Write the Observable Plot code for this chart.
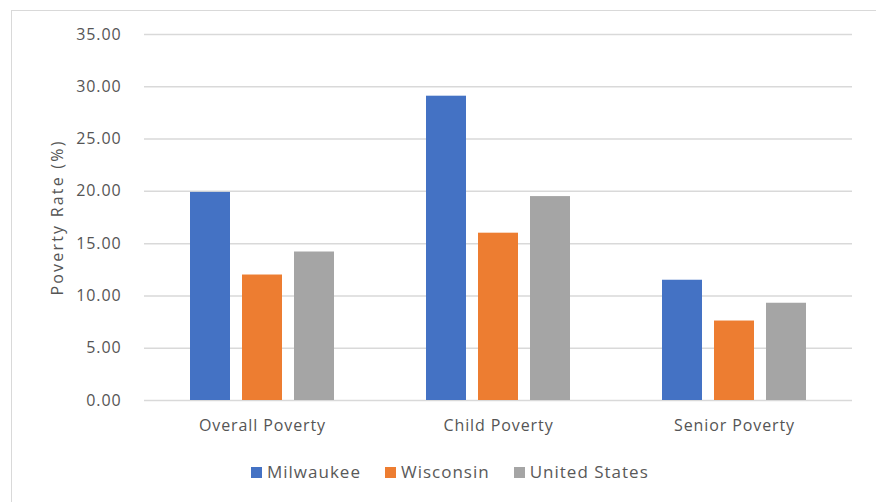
<!DOCTYPE html>
<html>
<head>
<meta charset="utf-8">
<script src="https://cdn.jsdelivr.net/npm/d3@7"></script>
<script src="https://cdn.jsdelivr.net/npm/@observablehq/plot@0.6"></script>
<style>
  html, body { margin: 0; padding: 0; width: 876px; height: 502px; overflow: hidden; background: #fff; }
  #frame { position: absolute; left: 11px; top: 10px; width: 900px; height: 600px; border: 1px solid #d9d9d9; box-sizing: border-box; }
  #chart { position: absolute; left: 0; top: 0; }
  #legend { position: absolute; left: 251px; top: 461px; display: flex; gap: 24px; font-family: "Open Sans", sans-serif; font-size: 17px; color: #595959; letter-spacing: 1px; line-height: 22px; }
  #legend .item { display: flex; align-items: center; gap: 5px; }
  #legend .sw { width: 11px; height: 11px; display: inline-block; }
</style>
</head>
<body>
<div id="frame"></div>
<div id="chart"></div>
<div id="legend"></div>
<script>
const categories = ["Overall Poverty", "Child Poverty", "Senior Poverty"];
const series = ["Milwaukee", "Wisconsin", "United States"];
const milwaukee = [19.9, 29.1, 11.5];
const wisconsin = [12.0, 16.0, 7.6];
const unitedStates = [14.2, 19.5, 9.3];
const colors = ["#4472C4", "#ED7D31", "#A5A5A5"];
const yTicks = [0, 5, 10, 15, 20, 25, 30, 35];
const yTitle = "Poverty Rate (%)";

const valuesBySeries = [milwaukee, wisconsin, unitedStates];
const rows = [];
categories.forEach((c, i) => {
  series.forEach((s, j) => rows.push({category: c, series: s, value: valuesBySeries[j][i]}));
});

const chart = Plot.plot({
  width: 876,
  height: 445,
  marginTop: 34,
  marginBottom: 45,
  marginLeft: 143,
  marginRight: 24,
  style: {fontFamily: "'Open Sans', sans-serif", fontSize: "16px", color: "#555555", background: "transparent", letterSpacing: "0.9px"},
  y: {domain: [0, 35]},
  fx: {domain: categories, padding: 0, label: null},
  x: {domain: series, paddingInner: 0.23, paddingOuter: 0.87, axis: null},
  color: {domain: series, range: colors},
  marks: [
    Plot.ruleY(yTicks, {stroke: "#d9d9d9", strokeWidth: 1.5}),
    Plot.barY(rows, {fx: "category", x: "series", y: "value", fill: "series"}),
    Plot.axisY({ticks: yTicks, tickSize: 0, tickPadding: 23, tickFormat: d => d.toFixed(2),
      label: yTitle, labelAnchor: "center", labelArrow: "none", labelOffset: 93}),
    Plot.axisFx({anchor: "bottom", tickSize: 0, tickPadding: 19, label: null})
  ]
});
document.getElementById("chart").appendChild(chart);
d3.select(chart).selectAll("[aria-label='y-axis label'] text, [aria-label='y-axis label']").style("letter-spacing", "2.2px");

const legend = d3.select("#legend");
series.forEach((s, i) => {
  const item = legend.append("div").attr("class", "item");
  item.append("span").attr("class", "sw").style("background", colors[i]);
  item.append("span").text(s);
});
</script>
</body>
</html>
